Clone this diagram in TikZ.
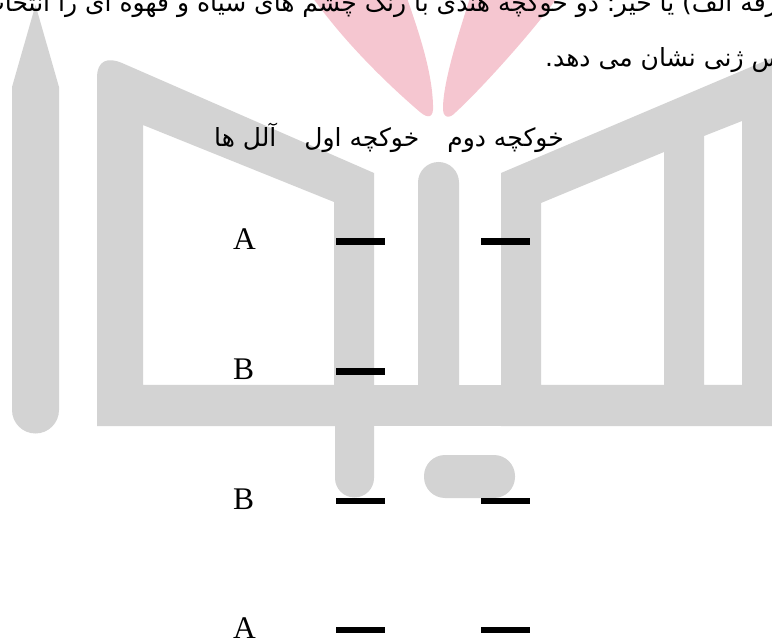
\documentclass[tikz,border=0pt]{standalone}
\usepackage{fontspec}
\setmainfont{Liberation Serif}
\newfontfamily\farsi[Script=Arabic]{DejaVu Sans}
\TeXXeTstate=1
\definecolor{logogray}{RGB}{211,211,211}
\definecolor{logopink}{RGB}{245,198,208}
\begin{document}
\begin{tikzpicture}[x=1pt,y=-1pt,
    fa/.style={font=\farsi\fontsize{25}{30}\selectfont,inner sep=0pt},
    allele/.style={font=\fontsize{31.5}{36}\selectfont,inner sep=0pt,anchor=base west},
    band/.style={fill=black,inner sep=0pt,minimum width=49pt,minimum height=6.5pt}]
    \useasboundingbox (0,0) rectangle (772,639);
    \clip (0,0) rectangle (772,639);
    \fill[logopink] (313,-2) .. controls (350,50) and (400,95) .. (420,112) .. controls (428,119) and (434,118) .. (433,105) .. controls (432,70) and (418,30) .. (407,-2) -- cycle;
    \fill[logopink] (470,-2) .. controls (458,35) and (444,80) .. (443,106) .. controls (442,119) and (450,119) .. (456,112) .. controls (480,90) and (530,35) .. (557,-2) -- cycle;
    \fill[logogray] (12,410) -- (12,87) -- (35.5,5) -- (59,87) -- (59,410) arc[start angle=0,end angle=180,radius=23.5] -- cycle;
    \fill[logogray,even odd rule] (97,426) -- (97,78) .. controls (97,60) and (108,57) .. (122,63) -- (374,173) -- (374,478) arc[start angle=0,end angle=180,radius=19.5] -- (335,426) -- cycle
        (143,125) -- (334,202) -- (334,385) -- (143,385) -- cycle;
    \fill[logogray] (97,385) rectangle (772,426);
    \fill[logogray] (418,390) -- (418,182.5) arc[start angle=180,end angle=360,radius=20.5] -- (459,390) -- cycle;
    \fill[logogray,even odd rule] (501,426) -- (501,173) -- (772,58) -- (772,426) -- cycle
        (541,203) -- (664,152) -- (664,385) -- (541,385) -- cycle
        (704,136) -- (742,121) -- (742,385) -- (704,385) -- cycle;
    \fill[logogray,rounded corners=21] (424,455) rectangle (515,498);

    \node[fa,anchor=base east] (line1) at (790,12) {\beginR ورقه الف) یا خیر؛ دو خوکچه هندی با رنگ چشم های سیاه و قهوه ای را انتخاب کرده\endR};
    \node[fa,anchor=base west] (line2) at (545,67) {\beginR را در لوکوس ژنی نشان می دهد.\endR};
    \node[fa,anchor=base east] (head) at (564,147) {\beginR خوکچه دوم\hspace{28pt}خوکچه اول\hspace{28pt}آلل ها\endR};
    \foreach \y/\lab [count=\i] in {250/A,380/B,509/B,638.5/A}
        \node[allele] (al\i) at (233,\y) {\lab};
    \foreach \y [count=\i] in {241.5,371.5,501,630}
        \node[band] (pa\i) at (360.5,\y) {};
    \foreach \y/\i in {241.5/1,501/3,630/4}
        \node[band] (pb\i) at (505.5,\y) {};
\end{tikzpicture}
\end{document}
